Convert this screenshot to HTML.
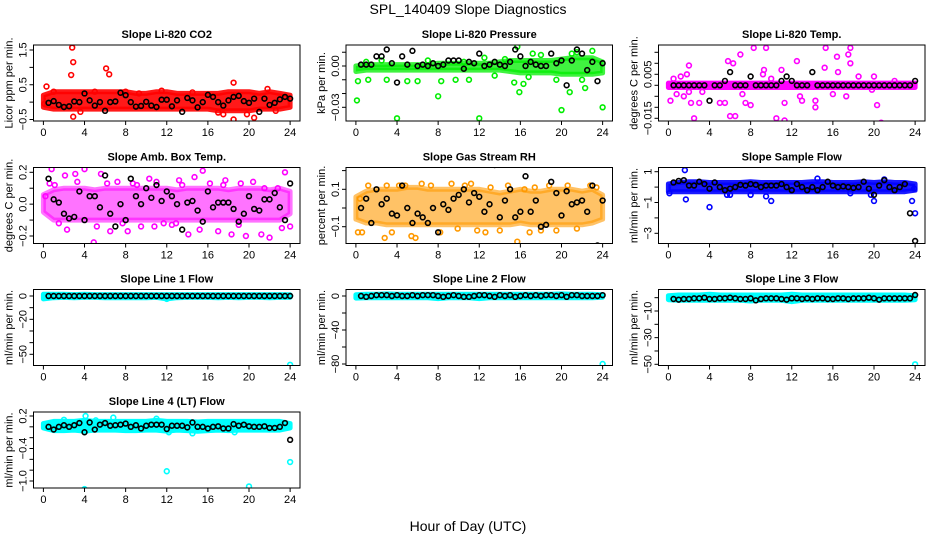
<!DOCTYPE html>
<html><head><meta charset="utf-8"><style>
html,body{margin:0;padding:0;background:#fff;}
svg{display:block;font-family:"Liberation Sans",Arial,sans-serif;}
</style></head><body>
<svg id="chart" width="936" height="540" viewBox="0 0 936 540">
<text x="468" y="14" text-anchor="middle" font-size="14">SPL_140409  Slope Diagnostics</text>
<text x="468" y="531" text-anchor="middle" font-size="14">Hour of Day (UTC)</text>
</svg>
<script>
// ---------- shared categories ----------
const bandHours = [0,1,2,3,4,5,6,7,8,9,10,11,12,13,14,15,16,17,18,19,20,21,22,23,24];
const halfHours = [0.5,1,1.5,2,2.5,3,3.5,4,4.5,5,5.5,6,6.5,7,7.5,8,8.5,9,9.5,10,10.5,11,11.5,12,12.5,13,13.5,14,14.5,15,15.5,16,16.5,17,17.5,18,18.5,19,19.5,20,20.5,21,21.5,22,22.5,23,23.5,24];
const xTicks = [0,4,8,12,16,20,24];

// ---------- panel 1: CO2 ----------
const co2BandLo = [-0.15,-0.2,-0.2,-0.2,-0.2,-0.2,-0.2,-0.2,-0.2,-0.2,-0.2,-0.2,-0.2,-0.2,-0.2,-0.2,-0.2,-0.25,-0.25,-0.25,-0.25,-0.2,-0.2,-0.2,-0.15];
const co2BandHi = [0.2,0.3,0.3,0.3,0.3,0.3,0.3,0.3,0.3,0.25,0.25,0.3,0.3,0.25,0.25,0.25,0.25,0.25,0.3,0.3,0.3,0.25,0.3,0.25,0.2];
const co2PtX = [2.8,2.9,2.7,2.9,6.1,6.4,0.3,18.5,18.5,20.5,21.8,11.5,8,0.1,17.5,19.8,22.6,17,1,5,14.5,9.3,3.6];
const co2PtY = [1.57,1.15,0.78,-0.42,0.97,0.8,0.45,0.56,-0.5,-0.45,0.38,0.33,0.3,-0.05,-0.35,-0.35,-0.25,-0.3,0.3,0.3,0.28,0.25,-0.28];
const co2Black = [-0.02,0.03,-0.08,-0.14,-0.12,0.02,0.0,0.25,0.05,-0.1,0.0,-0.25,0.0,0.02,0.27,0.2,0.0,-0.13,-0.11,0.01,-0.1,-0.14,0.07,0.07,-0.12,0.05,-0.28,0.12,0.05,-0.15,0.0,0.21,0.15,0.0,-0.1,0.05,0.15,0.18,0.03,-0.02,0.1,-0.28,0.1,-0.08,-0.02,0.08,0.15,0.1];

// ---------- panel 2: pressure ----------
const prsBandLo = [-0.004,-0.003,-0.003,-0.003,-0.003,-0.003,-0.003,-0.003,-0.003,-0.003,-0.003,-0.003,-0.003,-0.003,-0.003,-0.004,-0.005,-0.005,-0.005,-0.005,-0.006,-0.006,-0.006,-0.006,-0.005];
const prsBandHi = [0.0,0.001,0.001,0.001,0.001,0.001,0.001,0.001,0.002,0.002,0.002,0.002,0.002,0.002,0.003,0.004,0.004,0.004,0.004,0.004,0.005,0.006,0.006,0.006,0.003];
const prsPtX = [0.1,0.2,1.2,4,8,12,20,24,15.7,15.4,15.9,20.8,22.3,23,18,21,3,5,6,9.7,11,13.5,16.3,1,7,19.5,22,2.5,10.5,14.5,17.2,21.5,12.5,16.8,8.3];
const prsPtY = [-0.025,-0.011,-0.01,-0.038,-0.022,-0.038,-0.032,-0.03,0.014,-0.012,-0.019,-0.019,-0.016,0.011,0.008,0.009,-0.01,-0.011,-0.011,-0.01,-0.01,-0.007,-0.013,0.003,0.004,-0.01,-0.01,0.004,0.003,0.005,0.009,0.01,0.006,-0.008,-0.011];
const prsBlack = [0.001,0.001,0.001,0.007,0.007,0.012,0.002,-0.012,0.007,0.001,0.011,0.0,0.001,0.0,0.002,0.0,0.001,0.004,0.004,0.004,-0.002,0.003,0.002,0.009,0.0,0.001,0.003,0.001,0.0,0.003,0.012,0.007,0.0,0.003,0.001,0.0,0.0,0.009,0.002,0.004,-0.014,0.004,0.012,0.009,-0.003,0.003,-0.011,0.002];

// ---------- panel 3: Li-820 temp ----------
const tmpBandLo = [-0.001,-0.001,-0.001,-0.001,-0.001,-0.001,-0.001,-0.001,-0.001,-0.001,-0.001,-0.001,-0.001,-0.001,-0.001,-0.001,-0.001,-0.001,-0.001,-0.001,-0.001,-0.001,-0.001,-0.001,-0.001];
const tmpBandHi = [0.001,0.001,0.001,0.001,0.001,0.001,0.001,0.001,0.001,0.001,0.001,0.001,0.001,0.001,0.001,0.001,0.001,0.001,0.001,0.001,0.001,0.001,0.001,0.001,0.001];
const tmpPtX = [0.1,0.2,0.5,0.8,1.5,1.8,2,2.2,2.5,2.5,3,4,5,5.5,5.8,6,6.3,7,7.5,8,8.3,8.7,9.3,9.5,9.3,9.2,10.5,11,11.3,11.6,11.3,12.5,12.8,13.5,14.3,14.3,15.3,15.2,15.8,16.4,16.5,17.5,17.7,17.7,17.3,18.5,20,20.3,20.7,22,2,7.2,8,13,19.8,6.5,1.2,10,3.3,16];
const tmpPtY = [-0.025,-0.007,0.003,-0.004,-0.005,0.005,0.009,-0.008,-0.015,-0.02,-0.008,-0.022,-0.008,-0.008,0.011,-0.014,0.01,0.014,-0.008,0.027,0.017,-0.018,0.023,0.017,0.007,0.005,-0.015,0.007,-0.016,-0.018,-0.008,0.011,-0.005,0.026,-0.007,-0.01,0.017,0.008,0.021,0.013,0.006,0.014,0.017,0.01,-0.005,0.004,0.004,-0.009,-0.017,0.002,-0.003,-0.004,-0.009,-0.007,-0.002,-0.014,0.004,0.003,-0.003,-0.004];
const tmpBlack = [0,0,0,0,0,0,0,-0.007,0,0,0.002,0.006,0,0,0,0.004,0,0,0,0,0,0.002,0.004,0.002,0,0,0,0.006,0,0,0,0,0,0,0,0,0,0,0,0,0,0,0,0,0,0,0,0.002];

// ---------- panel 4: ambient box temp ----------
const ambBandLo = [-0.05,-0.1,-0.1,-0.1,-0.1,-0.1,-0.1,-0.1,-0.1,-0.1,-0.1,-0.1,-0.1,-0.1,-0.1,-0.1,-0.1,-0.1,-0.1,-0.1,-0.1,-0.1,-0.1,-0.1,-0.06];
const ambBandHi = [0.06,0.09,0.1,0.1,0.1,0.09,0.1,0.1,0.1,0.1,0.1,0.1,0.1,0.09,0.1,0.1,0.1,0.1,0.09,0.1,0.1,0.1,0.09,0.1,0.08];
const ambPtX = [0.8,0.6,1.5,2.3,3.1,4,4.9,5.6,6.5,7.2,8.2,8.7,9.5,10.3,11,11.7,12.5,13.2,14.1,14.7,15.5,16.2,17,17.7,18.3,19.2,19.7,20.4,21.2,22,22.8,23.5,0.2,1.1,2.1,3.3,5.2,6.2,9.1,10.8,13.5,15.2,17.5,19,21.5,23.2,24,7.7,12.9];
const ambPtY = [0.22,0.13,-0.12,-0.16,0.19,0.22,-0.24,0.19,-0.17,0.14,-0.17,0.13,-0.14,0.16,0.14,-0.12,-0.13,0.15,-0.19,0.17,0.21,0.13,-0.17,0.15,-0.19,0.13,-0.2,0.14,-0.19,-0.21,0.1,0.2,0.05,0.12,0.18,0.14,-0.14,0.13,0.12,-0.14,0.12,-0.16,0.12,-0.13,0.1,-0.15,-0.14,-0.12,-0.12];
const ambBlack = [0.16,0.03,0.01,-0.06,-0.09,-0.08,0.08,-0.1,0.05,0.05,-0.02,0.18,-0.06,-0.14,0.0,-0.1,0.16,0.05,0.0,0.1,0.04,0.12,0.02,0.08,0.05,0.0,-0.16,0.01,0.02,-0.04,-0.11,0.08,-0.02,0.01,0.01,0.01,-0.03,-0.11,-0.06,0.05,-0.03,-0.04,0.03,0.03,0.07,-0.02,-0.1,0.13];

// ---------- panel 5: gas stream RH ----------
const rhBandLo = [-0.06,-0.08,-0.08,-0.09,-0.09,-0.09,-0.09,-0.09,-0.09,-0.09,-0.09,-0.09,-0.09,-0.09,-0.09,-0.09,-0.08,-0.09,-0.09,-0.09,-0.09,-0.09,-0.09,-0.08,-0.06];
const rhBandHi = [0.06,0.09,0.1,0.1,0.1,0.11,0.11,0.1,0.1,0.1,0.1,0.1,0.1,0.09,0.08,0.09,0.1,0.09,0.09,0.1,0.1,0.1,0.09,0.1,0.07];
const rhPtX = [0.2,0.6,2.8,3.5,4.2,5.4,5.8,8.2,9.3,10.6,11.8,12.6,13.1,14,15.7,16.4,16.9,18,19.5,20.6,21.5,22.8,1.2,3,6.4,7.3,9.9,14.8,18.8,23.4,0.4,4.8,11.2,17.4];
const rhPtY = [-0.13,-0.13,-0.16,-0.13,0.12,-0.15,-0.16,-0.13,0.13,0.12,-0.12,-0.13,0.11,-0.12,-0.18,0.1,-0.13,-0.12,-0.12,0.12,-0.11,0.12,0.12,0.12,0.13,0.12,-0.11,0.12,0.12,0.11,0.05,0.12,0.13,0.11];
const rhBlack = [0.0,0.05,-0.08,0.1,0.02,0.05,-0.03,-0.04,0.12,0.0,-0.08,-0.03,-0.05,-0.08,0.0,-0.13,0.02,-0.01,0.05,0.07,0.1,0.03,0.08,0.06,-0.02,0.02,0.23,-0.05,0.04,0.1,-0.05,-0.02,0.17,-0.02,0.04,-0.1,-0.09,0.14,0.08,-0.04,0.09,0.02,0.03,0.04,-0.02,0.12,-0.2,0.04];

// ---------- panel 6: sample flow ----------
const sfBandLo = [-0.3,-0.3,-0.3,-0.3,-0.3,-0.3,-0.3,-0.3,-0.3,-0.3,-0.3,-0.3,-0.3,-0.3,-0.3,-0.3,-0.3,-0.3,-0.3,-0.3,-0.3,-0.3,-0.3,-0.3,-0.2];
const sfBandHi = [0.2,0.3,0.35,0.35,0.3,0.3,0.3,0.3,0.35,0.3,0.3,0.3,0.3,0.3,0.35,0.35,0.3,0.3,0.3,0.35,0.3,0.35,0.3,0.3,0.2];
const sfPtX = [1.6,1.7,4,10,20,23.7,24,14.5,6,9.5,19.7,0.1,5.7,8,17.7,21,23.9];
const sfPtY = [1.1,-0.8,-1.3,-0.9,-0.9,-0.9,-1.7,0.55,-0.5,-0.6,-0.5,-0.4,-0.5,-0.5,-0.4,0.5,-0.1];
const sfBlack = [0.3,0.4,0.45,0.1,0.1,0.35,0.2,-0.1,0.3,0.0,-0.2,-0.1,0.0,0.15,0.1,0.2,0.15,0.0,0.1,0.1,0.1,0.2,0.0,-0.2,0.2,0.0,-0.2,0.0,-0.2,0.0,0.35,0.1,0.0,0.05,0.0,-0.05,0.0,0.35,-0.1,-0.5,0.1,0.45,0.0,-0.2,0.0,0.2,-1.7,-3.5];

// ---------- panel 7: line 1 flow ----------
const l1BandLo = [-2.5,-1.5,-1.2,-1.5,-1.2,-1.2,-1.5,-1.5,-1.5,-1.5,-1.5,-1.2,-2.5,-1.5,-1.2,-1.2,-1.2,-1.5,-1.2,-1.5,-1.2,-1.2,-1.5,-1.2,-1.2];
const l1BandHi = [1.5,1.5,1.5,1.2,1.5,1.2,1.2,1.2,1.2,1.2,1.2,1.2,1.2,1.2,1.2,1.2,1.2,1.2,1.2,1.2,1.2,1.2,1.2,1.2,1.0];
const l1PtX = [24,0.1,12];
const l1PtY = [-59,-1.5,-2.5];
const l1Black = [0,0,0,0,0,0,0,0,0,0,0,0,0,0,0,0,0,0,0,0,0,0,0,0,0,0,0,0,0,0,0,0,0,0,0,0,0,0,0,0,0,0,0,0,0,0,0,0];

// ---------- panel 8: line 2 flow ----------
const l2BandLo = [-2.5,-2,-2,-2,-2,-2,-2,-2,-3,-2,-2,-2,-3,-2,-2,-2,-2,-2,-2,-2,-2,-2,-2,-2,-1.5];
const l2BandHi = [1.5,2,2,2.5,2,2,2,2,2,2,2,2,2,2,2,2,2,2,2,2,2.5,2,2,2,1.5];
const l2PtX = [24];
const l2PtY = [-80];
const l2Black = [0,-1,0,1,1,1,0,1,0,0,1,0,1,1,1,0,-1,0,1,0,-1,-1,0,1,1,0,-1,1,0,1,-1,0,1,0,1,0,1,1,0,1,-1,1,1,0,0,0,0,1];

// ---------- panel 9: line 3 flow ----------
const l3BandLo = [-1.5,-2,-2,-2,-2,-2,-2,-2,-2.5,-2,-2,-2,-3,-2,-2,-2,-2,-2,-2,-2,-2,-2,-2,-2,-1.5];
const l3BandHi = [1.5,2,2,2,2.5,2,2,2,2,2,2,2,2.5,2,2,2,2,2,2,2,2,2,2,2,1.5];
const l3PtX = [24];
const l3PtY = [-50];
const l3Black = [-1,-1.5,-1,-1,-0.5,-0.5,0,-1,-1,-0.5,-0.5,0,-0.5,-1,-1,-0.5,-2,-1,-0.5,-0.5,-0.5,-1,-1.5,-0.5,-0.5,-1,-0.5,-1,-0.5,-0.5,-1,-1,-0.5,-0.5,-1,-0.5,-0.5,-0.5,0,-0.5,-1.5,-0.5,-0.5,-0.5,-0.5,-0.5,-0.5,2];

// ---------- panel 10: line 4 flow ----------
const l4BandLo = [-0.02,-0.07,-0.07,-0.06,-0.08,-0.06,-0.06,-0.06,-0.07,-0.07,-0.06,-0.06,-0.08,-0.06,-0.07,-0.08,-0.07,-0.06,-0.07,-0.06,-0.06,-0.06,-0.06,-0.06,-0.02];
const l4BandHi = [0.06,0.1,0.1,0.1,0.12,0.1,0.1,0.1,0.1,0.1,0.1,0.12,0.1,0.1,0.1,0.09,0.1,0.1,0.1,0.1,0.1,0.1,0.1,0.1,0.06];
const l4PtX = [4,12,20,24,4.1,6.8,14.5,11,2,12.2,5.1,18.6,0.2];
const l4PtY = [-1.15,-0.82,-1.1,-0.65,0.2,0.17,-0.12,0.15,0.13,-0.1,0.12,-0.1,0.0];
const l4Black = [0.0,-0.05,0.0,0.03,0.0,0.03,0.07,-0.1,0.08,-0.05,0.04,0.07,0.02,0.03,0.04,0.06,0.0,0.03,-0.03,0.02,0.04,0.04,0.04,-0.04,0.02,0.02,0.02,-0.01,0.08,0.0,0.0,-0.03,0.0,0.01,-0.03,-0.03,0.05,0.02,0.04,0.01,0.0,0.0,0.01,-0.02,-0.02,0.0,0.07,-0.24];

const NS = 'http://www.w3.org/2000/svg';
const svg = document.getElementById('chart');
function mk(tag, attrs, parent){ const e=document.createElementNS(NS,tag); for(const k in attrs) e.setAttribute(k,attrs[k]); (parent||svg).appendChild(e); return e; }

const colL = [33.5, 346, 658.5];
const rowT = [45, 167.5, 289.5, 412];
const BW = 266.5, BH = 76;

const panels = [
 {key:'co2', title:'Slope Li-820 CO2', ylab:'Licor ppm per min.', col:0,row:0, color:'#ff0000', op:0.9, a:[1.5,50], b:[-0.5,119.5], ticks:[-0.5,0,0.5,1,1.5], labels:{'-0.5':'\u22120.5','0.5':'0.5','1.5':'1.5'}, lo:co2BandLo, hi:co2BandHi, px:co2PtX, py:co2PtY, bk:co2Black},
 {key:'pressure', title:'Slope Li-820 Pressure', ylab:'kPa per min.', col:1,row:0, color:'#00ee00', op:0.75, a:[0,66], b:[-0.03,107.3], ticks:[0.01,0,-0.01,-0.02,-0.03], labels:{'0':'0.00','-0.03':'\u22120.03'}, lo:prsBandLo, hi:prsBandHi, px:prsPtX, py:prsPtY, bk:prsBlack},
 {key:'li820-temp', title:'Slope Li-820 Temp.', ylab:'degrees C per min.', col:2,row:0, color:'#ff00ff', op:1, a:[0,85.3], b:[-0.015,118.3], ticks:[0.015,0.01,0.005,0,-0.005,-0.01,-0.015], labels:{'0.005':'0.005','-0.015':'\u22120.015'}, lo:tmpBandLo, hi:tmpBandHi, px:tmpPtX, py:tmpPtY, bk:tmpBlack},
 {key:'amb-temp', title:'Slope Amb. Box Temp.', ylab:'degrees C per min.', col:0,row:1, color:'#ff00ff', op:0.55, a:[0.2,172.3], b:[-0.2,236], ticks:[0.2,0.1,0,-0.1,-0.2], labels:{'0.2':'0.2','0':'0.0','-0.2':'\u22120.2'}, lo:ambBandLo, hi:ambBandHi, px:ambPtX, py:ambPtY, bk:ambBlack},
 {key:'rh', title:'Slope Gas Stream RH', ylab:'percent per min.', col:1,row:1, color:'#ff9900', op:0.6, a:[0.1,189.3], b:[-0.1,226.7], ticks:[0.2,0.1,0,-0.1], labels:{'0.1':'0.1','-0.1':'\u22120.1'}, lo:rhBandLo, hi:rhBandHi, px:rhPtX, py:rhPtY, bk:rhBlack},
 {key:'sample-flow', title:'Slope Sample Flow', ylab:'ml/min per min.', col:2,row:1, color:'#0000ff', op:0.9, a:[1,171.7], b:[-3,233.3], ticks:[1,0,-1,-2,-3], labels:{'1':'1','-1':'\u22121','-3':'\u22123'}, lo:sfBandLo, hi:sfBandHi, px:sfPtX, py:sfPtY, bk:sfBlack},
 {key:'line1', title:'Slope Line 1 Flow', ylab:'ml/min per min.', col:0,row:2, color:'#00ffff', op:1, a:[0,296], b:[-50,354.3], ticks:[0,-10,-20,-30,-40,-50], labels:{'0':'0','-20':'\u221220','-50':'\u221250'}, lo:l1BandLo, hi:l1BandHi, px:l1PtX, py:l1PtY, bk:l1Black},
 {key:'line2', title:'Slope Line 2 Flow', ylab:'ml/min per min.', col:1,row:2, color:'#00ffff', op:1, a:[0,296], b:[-80,364], ticks:[0,-20,-40,-60,-80], labels:{'0':'0','-40':'\u221240','-80':'\u221280'}, lo:l2BandLo, hi:l2BandHi, px:l2PtX, py:l2PtY, bk:l2Black},
 {key:'line3', title:'Slope Line 3 Flow', ylab:'ml/min per min.', col:2,row:2, color:'#00ffff', op:1, a:[-10,311], b:[-50,364.3], ticks:[0,-10,-20,-30,-40,-50], labels:{'-10':'\u221210','-30':'\u221230','-50':'\u221250'}, lo:l3BandLo, hi:l3BandHi, px:l3PtX, py:l3PtY, bk:l3Black},
 {key:'line4', title:'Slope Line 4 (LT) Flow', ylab:'ml/min per min.', col:0,row:3, color:'#00ffff', op:1, a:[0.2,416], b:[-1.0,481], ticks:[0.2,0,-0.2,-0.4,-0.6,-0.8,-1.0], labels:{'0.2':'0.2','-0.4':'\u22120.4','-1':'\u22121.0'}, lo:l4BandLo, hi:l4BandHi, px:l4PtX, py:l4PtY, bk:l4Black}
];

panels.forEach(p=>{
  const L = colL[p.col], T = rowT[p.row];
  const xs = h => L + 9.9 + h*10.28;
  const ys = v => p.a[1] + (v - p.a[0]) * (p.b[1]-p.a[1])/(p.b[0]-p.a[0]);
  const g = mk('g',{});
  
  
  const clipId = 'clip-' + p.key;
  const cp = mk('clipPath',{id:clipId}, g); mk('rect',{x:L,y:T,width:BW,height:BH},cp);
  const plot = mk('g',{'clip-path':'url(#'+clipId+')'}, g);
  let d = '';
  bandHours.forEach((h,i)=>{ d += (i?'L':'M') + xs(h).toFixed(1) + ',' + ys(p.hi[i]).toFixed(1); });
  for(let i=bandHours.length-1;i>=0;i--){ d += 'L' + xs(bandHours[i]).toFixed(1) + ',' + ys(p.lo[i]).toFixed(1); }
  const band = mk('path',{d:d+'Z', fill:p.color, 'fill-opacity':p.op, stroke:p.color, 'stroke-opacity':p.op, 'stroke-width':5, 'stroke-linejoin':'round'}, plot);
  
  
  p.px.forEach((h,i)=>{
    const c = mk('circle',{cx:xs(h),cy:ys(p.py[i]),r:2.4,fill:'none',stroke:p.color,'stroke-width':1.6}, plot);
    
    
  });
  halfHours.forEach((h,i)=>{
    const c = mk('circle',{cx:xs(h),cy:ys(p.bk[i]),r:2.4,fill:'none',stroke:'#000','stroke-width':1.6}, plot);
    
    
  });
  const box = mk('rect',{x:L,y:T,width:BW,height:BH,fill:'none',stroke:'#000','stroke-width':1}, g);
  
  
  const t = mk('text',{x:L+BW/2,y:T-7,'text-anchor':'middle','font-size':11,'font-weight':'bold'}, g);
  t.textContent = p.title;
  
  
  mk('line',{x1:xs(xTicks[0]),x2:xs(xTicks[xTicks.length-1]),y1:T+BH,y2:T+BH,stroke:'#000'}, g);
  xTicks.forEach(v=>{
    mk('line',{x1:xs(v),x2:xs(v),y1:T+BH,y2:T+BH+4,stroke:'#000'}, g);
    const tl = mk('text',{x:xs(v),y:T+BH+15,'text-anchor':'middle','font-size':11}, g);
    tl.textContent = v;
    
    
  });
  p.ticks.forEach(v=>{
    const y = ys(v);
    mk('line',{x1:L-4,x2:L,y1:y,y2:y,stroke:'#000'}, g);
    const key = String(v);
    if(p.labels[key] !== undefined){
      const yl = mk('text',{x:0,y:0,'text-anchor':'middle','font-size':11,transform:'translate('+(L-7)+','+y+') rotate(-90)'}, g);
      yl.textContent = p.labels[key];
      
      
    }
  });
  const yt = mk('text',{x:0,y:0,'text-anchor':'middle','font-size':11,transform:'translate('+(L-21)+','+(T+BH/2)+') rotate(-90)'}, g);
  yt.textContent = p.ylab;
  
  
});
</script>
</body></html>
